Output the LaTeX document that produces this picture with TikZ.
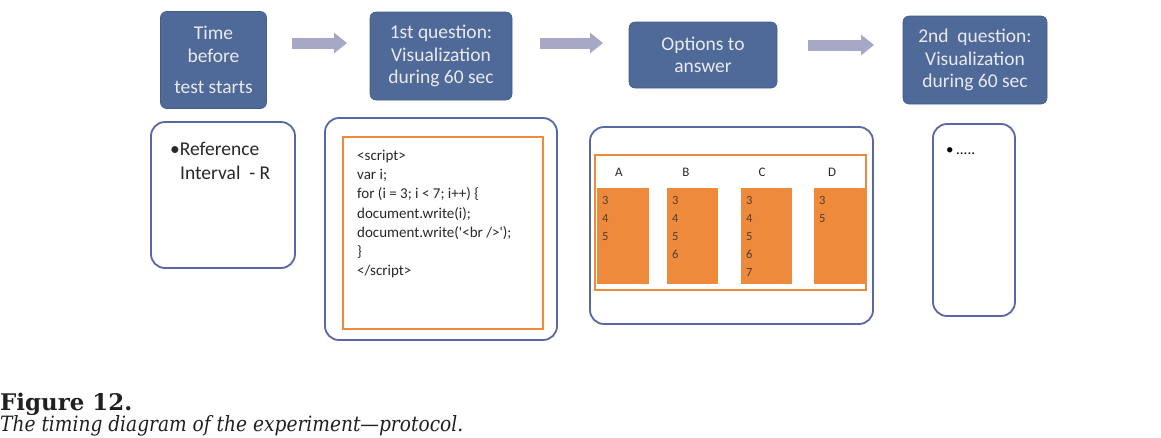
\documentclass[tikz,border=0pt]{standalone}
\usepackage{fontspec}
\usepackage{graphicx}
\setmainfont{Carlito}
\newfontfamily\capfont{DejaVu Serif}
\usetikzlibrary{arrows.meta}
\definecolor{boxblue}{RGB}{79,106,152}
\definecolor{boxtext}{RGB}{232,234,240}
\definecolor{arrowc}{RGB}{168,168,198}
\definecolor{lineblue}{RGB}{88,104,164}
\definecolor{orng}{RGB}{237,138,60}
\definecolor{numc}{RGB}{85,62,50}
\definecolor{txt}{RGB}{40,40,40}
\definecolor{capc}{RGB}{35,31,32}
\begin{document}
\begin{tikzpicture}[x=1pt,y=-1pt,
 topbox/.style={fill=boxblue, draw=boxblue!88!black, line width=0.6pt, rounded corners=6pt,
   text=boxtext, align=center, font=\fontsize{19.5}{22.5}\selectfont, inner sep=0pt},
 flow/.style={arrowc, line width=11pt, -{Triangle[length=13pt,width=20pt]}},
 panel/.style={draw=lineblue, line width=1.8pt, rounded corners=14pt, fill=white},
 frame/.style={draw=orng, line width=1.8pt},
 opt/.style={fill=orng, draw=none, inner sep=0pt},
 optlab/.style={text=txt, font=\fontsize{13}{14}\selectfont, inner sep=0pt},
 nums/.style={text=numc, font=\fontsize{12.5}{18.2}\selectfont, align=left, inner sep=0pt, anchor=north west},
 bodytext/.style={text=txt, font=\fontsize{19.5}{24}\selectfont, inner sep=0pt, anchor=base west},
 codetext/.style={text=txt, font=\fontsize{15}{19.2}\selectfont, align=left, inner sep=0pt, anchor=north west}
]
\useasboundingbox (0,0) rectangle (1161,437);
\fill[white] (0,0) rectangle (1161,437);

% top boxes
\node[topbox, minimum width=106pt, minimum height=97pt] (b1) at (213.5,60) {Time\\before\\[9pt]test starts};
\node[topbox, minimum width=142pt, minimum height=88pt] (b2) at (441,56) {1st question:\\Visualization\\during 60 sec};
\node[topbox, minimum width=148pt, minimum height=66pt] (b3) at (703,55) {Options to\\answer};
\node[topbox, minimum width=144pt, minimum height=88pt] (b4) at (975,60) {2nd\ \ question:\\Visualization\\during 60 sec};

% block arrows
\coordinate (a1s) at (292,43); \coordinate (a1e) at (347,43);
\coordinate (a2s) at (540,43); \coordinate (a2e) at (603,43);
\coordinate (a3s) at (808,45); \coordinate (a3e) at (874,45);
\draw[flow] (a1s) -- (a1e);
\draw[flow] (a2s) -- (a2e);
\draw[flow] (a3s) -- (a3e);

% lower panel 1
\node[panel, minimum width=144pt, minimum height=146pt] (p1) at (223,195) {};
\node[bodytext] (p1a) at (170,155) {\textbullet Reference};
\node[bodytext] (p1b) at (180,179) {Interval\ \ - R};

% lower panel 2
\node[panel, minimum width=232pt, minimum height=222pt] (p2) at (441,229) {};
\node[frame, minimum width=200pt, minimum height=192pt] (f2) at (443,233) {};
\node[codetext] (code) at (357,150) {<script>\\var i;\\for (i = 3; i < 7; i++) \{\\document.write(i);\\document.write(\textquotesingle<br />\textquotesingle);\\\}\\</script>};

% lower panel 3
\node[panel, minimum width=283pt, minimum height=197pt] (p3) at (731.5,225.5) {};
\node[frame, minimum width=271pt, minimum height=135pt] (f3) at (730.5,222.5) {};
\node[optlab] (lA) at (619,172) {A};
\node[optlab] (lB) at (686,172) {B};
\node[optlab] (lC) at (762,172) {C};
\node[optlab] (lD) at (832,172) {D};
\node[opt, minimum width=52pt, minimum height=96pt] (oA) at (623,236) {};
\node[opt, minimum width=51pt, minimum height=96pt] (oB) at (692.5,236) {};
\node[opt, minimum width=51pt, minimum height=96pt] (oC) at (766.5,236) {};
\node[opt, minimum width=52pt, minimum height=96pt] (oD) at (840,236) {};
\node[nums] (nA) at ([shift={(5pt,-8pt)}]oA.north west) {3\\4\\5};
\node[nums] (nB) at ([shift={(5pt,-8pt)}]oB.north west) {3\\4\\5\\6};
\node[nums] (nC) at ([shift={(5pt,-8pt)}]oC.north west) {3\\4\\5\\6\\7};
\node[nums] (nD) at ([shift={(5pt,-8pt)}]oD.north west) {3\\5};

% lower panel 4
\node[panel, minimum width=82pt, minimum height=192pt] (p4) at (974,220) {};
\node[text=black, font=\fontsize{15}{18}\selectfont, inner sep=0pt, anchor=base west] (p4a) at (946,154) {\textbullet\,.....};

% caption
\node[anchor=base west, inner sep=0pt, text=capc] (fig) at (0,410) {\resizebox{132pt}{!}{\capfont\bfseries Figure 12.}};
\node[anchor=base west, inner sep=0pt, text=capc] (cap) at (0,431) {\resizebox{463pt}{16pt}{\capfont\itshape The timing diagram of the experiment\textemdash protocol.}};
\end{tikzpicture}
\end{document}
